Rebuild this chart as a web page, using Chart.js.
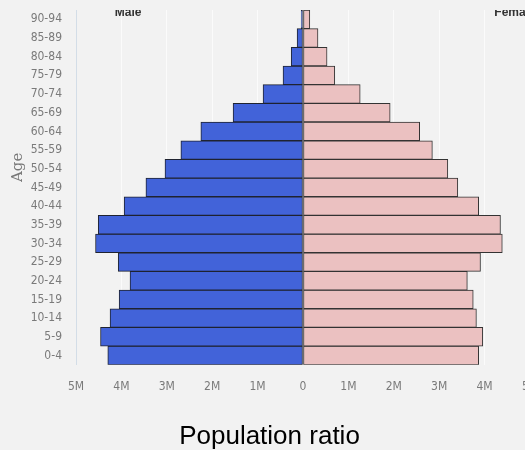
<!DOCTYPE html>
<html>
<head>
<meta charset="utf-8">
<script src="https://cdn.jsdelivr.net/npm/chart.js@4.4.0/dist/chart.umd.min.js"></script>
<style>
  html, body { margin: 0; padding: 0; background: #f2f2f2; overflow: hidden; }
  #pyramid { width: 525px; height: 450px; display: block; }
</style>
</head>
<body>
<canvas id="pyramid" width="525" height="450"></canvas>
<script>
const ageGroups = ['0-4', '5-9', '10-14', '15-19', '20-24', '25-29', '30-34', '35-39', '40-44',
	'45-49', '50-54', '55-59', '60-64', '65-69', '70-74', '75-79', '80-84', '85-89', '90-94'];

// population in millions
const maleValues = [4.30, 4.46, 4.25, 4.05, 3.81, 4.07, 4.57, 4.51, 3.94,
	3.46, 3.04, 2.69, 2.25, 1.54, 0.88, 0.44, 0.26, 0.13, 0.04];
const femaleValues = [3.87, 3.96, 3.82, 3.75, 3.62, 3.91, 4.39, 4.35, 3.87,
	3.41, 3.19, 2.85, 2.57, 1.92, 1.26, 0.70, 0.53, 0.33, 0.15];

const xTicks = [-5, -4, -3, -2, -1, 0, 1, 2, 3, 4, 5];

const tickFont = { family: "'Liberation Sans Narrow', 'DejaVu Sans Condensed', sans-serif", size: 12 };

// series names in the top corners, the axis name on the left
const sideLabels = {
	id: 'sideLabels',
	afterDatasetsDraw(chart) {
		const { ctx, chartArea, scales } = chart;
		ctx.save();
		ctx.beginPath();
		ctx.rect(chartArea.left, chartArea.top, chartArea.right - chartArea.left, chartArea.bottom - chartArea.top);
		ctx.clip();
		ctx.font = 'bold 12px "Liberation Sans", Arial, sans-serif';
		ctx.fillStyle = '#333';
		ctx.textAlign = 'center';
		ctx.textBaseline = 'alphabetic';
		ctx.fillText('Male', scales.x.getPixelForValue(-3.85), chartArea.top + 6);
		ctx.fillText('Female', scales.x.getPixelForValue(4.67), chartArea.top + 6);
		ctx.restore();

		ctx.save();
		ctx.translate(18, (chartArea.top + chartArea.bottom) / 2 - 20);
		ctx.rotate(-Math.PI / 2);
		ctx.font = '15px "DejaVu Serif", serif';
		ctx.fillStyle = '#777';
		ctx.textAlign = 'center';
		ctx.textBaseline = 'middle';
		ctx.fillText('Age', 0, 0);
		ctx.restore();
	}
};

const chart = new Chart(document.getElementById('pyramid').getContext('2d'), {
	type: 'bar',
	data: {
		labels: ageGroups,
		datasets: [{
			label: 'Male',
			data: maleValues.map(v => -v),
			backgroundColor: '#4263d9',
			borderColor: '#1f2330',
			borderWidth: 1,
			borderSkipped: false,
			barPercentage: 1,
			categoryPercentage: 1,
		}, {
			label: 'Female',
			data: femaleValues,
			backgroundColor: '#ebc1c1',
			borderColor: '#333333',
			borderWidth: 1,
			borderSkipped: false,
			barPercentage: 1,
			categoryPercentage: 1,
		}]
	},
	options: {
		indexAxis: 'y',
		responsive: false,
		animation: false,
		layout: { padding: { top: 10, right: 0, left: 14, bottom: 0 } },
		plugins: {
			legend: { display: false },
			tooltip: { enabled: false },
			title: {
				display: true,
				position: 'bottom',
				text: 'Population ratio',
				color: '#000',
				font: { family: "'Liberation Sans', Arial, sans-serif", size: 26, weight: 'normal' },
				padding: { top: 0, bottom: -2 },
			},
		},
		scales: {
			x: {
				stacked: true,
				min: -5,
				max: 4.89, // right edge of the plot runs off the page
				afterBuildTicks: scale => { scale.ticks = xTicks.map(v => ({ value: v })); },
				afterFit: scale => {
					scale.height = 56;
					scale.paddingLeft = 0;
					scale.paddingRight = 0;
				},
				grid: { color: '#fbfbfb', drawTicks: false },
				border: { display: false },
				ticks: {
					color: '#7a7a7a',
					font: tickFont,
					padding: 15,
					callback: v => v === 0 ? '0' : Math.abs(v) + 'M',
				},
			},
			y: {
				stacked: true,
				reverse: true,
				afterFit: scale => {
					scale.width = 62;
					scale.paddingTop = 0;
					scale.paddingBottom = 0;
				},
				grid: { display: false, drawTicks: false },
				border: { display: true, color: '#d3dde7', width: 1 },
				ticks: { color: '#7a7a7a', font: tickFont, padding: 14, autoSkip: false },
			},
		},
	},
	plugins: [sideLabels],
});
</script>
</body>
</html>
